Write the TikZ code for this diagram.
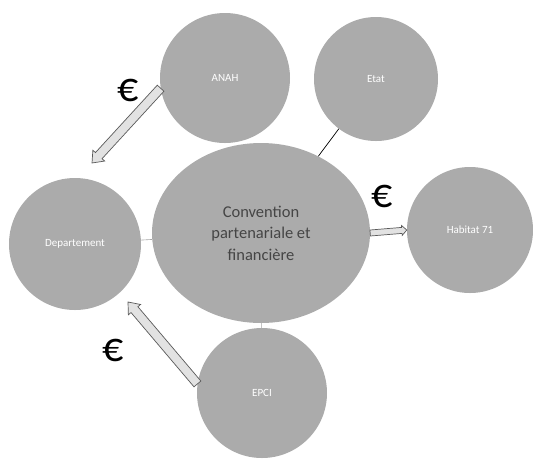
\documentclass[tikz,border=0pt]{standalone}
\usepackage{fontspec}
\setmainfont{Carlito}
\usetikzlibrary{shapes.geometric,calc}
\definecolor{disc}{HTML}{ABABAB}
\definecolor{conv}{HTML}{454545}
\definecolor{afill}{HTML}{E2E2E2}
\definecolor{aline}{HTML}{5A5A5A}
\newcommand\blockarrow[5]{%
  \coordinate (hb) at ($(#2)!#5!(#1)$);
  \filldraw[blockarr] ($(#1)!#3!90:(#2)$) -- ($(hb)!#3!90:(#2)$) -- ($(hb)!#4!90:(#2)$) -- (#2)
    -- ($(hb)!#4!-90:(#2)$) -- ($(hb)!#3!-90:(#2)$) -- ($(#1)!#3!-90:(#2)$) -- cycle;}
\begin{document}
\begin{tikzpicture}[x=1pt,y=-1pt,
  disk/.style={circle,fill=disc,inner sep=0pt,minimum size=#1,text=white,font=\fontsize{11}{13}\selectfont},
  bigoval/.style={ellipse,fill=disc,inner sep=0pt,minimum width=218pt,minimum height=180pt,text=conv,align=center,font=\fontsize{16.5}{21.5}\selectfont},
  euro/.style={font=\fontsize{42}{42}\selectfont,text=black,inner sep=0pt},
  blockarr/.style={fill=afill,draw=aline,line width=0.7pt,line join=miter},
  link/.style={draw=black,line width=0.7pt},
  faint/.style={draw=black!35,line width=0.6pt}]
\useasboundingbox (0,0) rectangle (533,459);
\node[disk=130pt] (anah) at (225,78) {ANAH};
\node[disk=124pt] (etat) at (376,79) {Etat};
\node[bigoval] (conv) at (261,233) {Convention\\partenariale et\\financière};
\node[disk=132pt] (dep) at (75,244) {Departement};
\node[disk=126pt] (hab) at (470,230) {Habitat 71};
\node[disk=130pt] (epci) at (262,393) {EPCI};
\draw[link] (conv) -- (etat);
\draw[faint] (conv) -- (dep);
\draw[faint] (conv) -- (epci);
\coordinate (a1s) at (anah.189);
\coordinate (a1t) at (92,163);
\coordinate (a2s) at (epci.172);
\coordinate (a2t) at (128,302);
\coordinate (a3s) at (conv.east);
\coordinate (a3t) at (hab.west);
\blockarrow{a1s}{a1t}{4.5pt}{8pt}{10pt}
\blockarrow{a2s}{a2t}{4.5pt}{8pt}{10pt}
\blockarrow{a3s}{a3t}{3pt}{5pt}{5pt}
\node[euro] (e1) at (128,90) {€};
\node[euro] (e2) at (382,196) {€};
\node[euro] (e3) at (113,350) {€};
\end{tikzpicture}
\end{document}
